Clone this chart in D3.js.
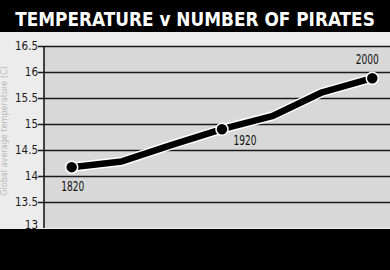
<!DOCTYPE html>
<html><head><meta charset="utf-8">
<script src="https://cdn.jsdelivr.net/npm/d3@7/dist/d3.min.js"></script>
<style>html,body{margin:0;padding:0;background:#000;}svg{display:block;}</style>
</head><body>
<script>
const years = ["1820","1860","1880","1920","1940","1980","2000"];
const temps = [14.17, 14.28, 14.6, 14.9, 15.15, 15.61, 15.88];
const labeledYears = ["1820","1920","2000"];
const yTicks = [13, 13.5, 14, 14.5, 15, 15.5, 16, 16.5];
const yTickLabels = ["13","13.5","14","14.5","15","15.5","16","16.5"];
const title = "TEMPERATURE v NUMBER OF PIRATES";
const yTitle = "Global average temperature (C)";

const W = 390, H = 270;
const font = "'Liberation Sans Narrow','DejaVu Sans Condensed','Roboto Condensed',Arial,sans-serif";
const svg = d3.select("body").append("svg").attr("width", W).attr("height", H);

svg.append("rect").attr("width", W).attr("height", H).attr("fill", "#000");
svg.append("rect").attr("x", 0).attr("y", 32).attr("width", W).attr("height", 197).attr("fill", "#ececec");

const plot = {left: 44, right: 390, top: 46, bottom: 228};
svg.append("rect").attr("x", plot.left).attr("y", plot.top)
  .attr("width", plot.right - plot.left).attr("height", plot.bottom - plot.top).attr("fill", "#d8d8d8");

const x = d3.scalePoint().domain(years).range([71.7, 372.3]);
const y = d3.scaleLinear().domain([13, 16.5]).range([plot.bottom, plot.top]);

// title, fitted to the reference width
const t = svg.append("text").attr("x", 195).attr("y", 25.5).attr("text-anchor", "middle")
  .attr("font-family", font).attr("font-weight", "bold").attr("font-size", 21)
  .attr("fill", "#fff").text(title);
const natural = t.node().getComputedTextLength();
t.attr("font-size", 21 * Math.min(1, 360 / natural));

// y axis with grid lines
const yAxis = d3.axisLeft(y).tickValues(yTicks)
  .tickFormat((d, i) => yTickLabels[i])
  .tickSize(-(plot.right - plot.left)).tickPadding(6);
const ga = svg.append("g").attr("transform", `translate(${plot.left},0)`).call(yAxis);
ga.select(".domain").remove();
ga.selectAll(".tick line").attr("stroke", "#1a1a1a").attr("stroke-width", 1.4).attr("x1", -6);
ga.selectAll(".tick text").attr("font-family", font).attr("font-size", 11.5)
  .attr("fill", "#1a1a1a").attr("x", -6).attr("dy", "0.32em");
ga.selectAll(".tick").filter(d => d === 13).select("line").remove();
ga.selectAll(".tick").filter(d => d === 13).select("text").attr("dy", "0.05em");

// left axis line
svg.append("line").attr("x1", plot.left).attr("x2", plot.left)
  .attr("y1", plot.top).attr("y2", plot.bottom)
  .attr("stroke", "#1a1a1a").attr("stroke-width", 1.6);

// y title (faint)
svg.append("text").attr("transform", `translate(4,${(plot.top + 216) / 2}) rotate(-90)`)
  .attr("text-anchor", "middle").attr("dy", "0.35em")
  .attr("font-family", font).attr("font-size", 9).attr("fill", "#b8b8b8")
  .text(yTitle);

// line
const pts = years.map((yr, i) => [x(yr), y(temps[i])]);
const line = d3.line().curve(d3.curveLinear);
svg.append("path").attr("d", line(pts)).attr("fill", "none")
  .attr("stroke", "#fff").attr("stroke-width", 9.5).attr("stroke-linejoin", "round").attr("stroke-linecap", "round");
svg.append("path").attr("d", line(pts)).attr("fill", "none")
  .attr("stroke", "#000").attr("stroke-width", 6.5).attr("stroke-linejoin", "round").attr("stroke-linecap", "round");

// markers
const marked = labeledYears.map(yr => ({yr, v: temps[years.indexOf(yr)]}));
svg.selectAll("circle.m").data(marked).enter().append("circle")
  .attr("cx", d => x(d.yr)).attr("cy", d => y(d.v)).attr("r", 6)
  .attr("fill", "#000").attr("stroke", "#fff").attr("stroke-width", 1.5);

// labels
const offs = {"1820": [1, 24], "1920": [23, 15.5], "2000": [-5, -14]};
svg.selectAll("text.yl").data(marked).enter().append("text")
  .attr("x", d => x(d.yr) + offs[d.yr][0]).attr("y", d => y(d.v) + offs[d.yr][1])
  .attr("text-anchor", "middle").attr("font-family", font).attr("font-size", 13.5)
  .attr("fill", "#111").attr("textLength", 23).attr("lengthAdjust", "spacingAndGlyphs")
  .text(d => d.yr);
</script>
</body></html>
